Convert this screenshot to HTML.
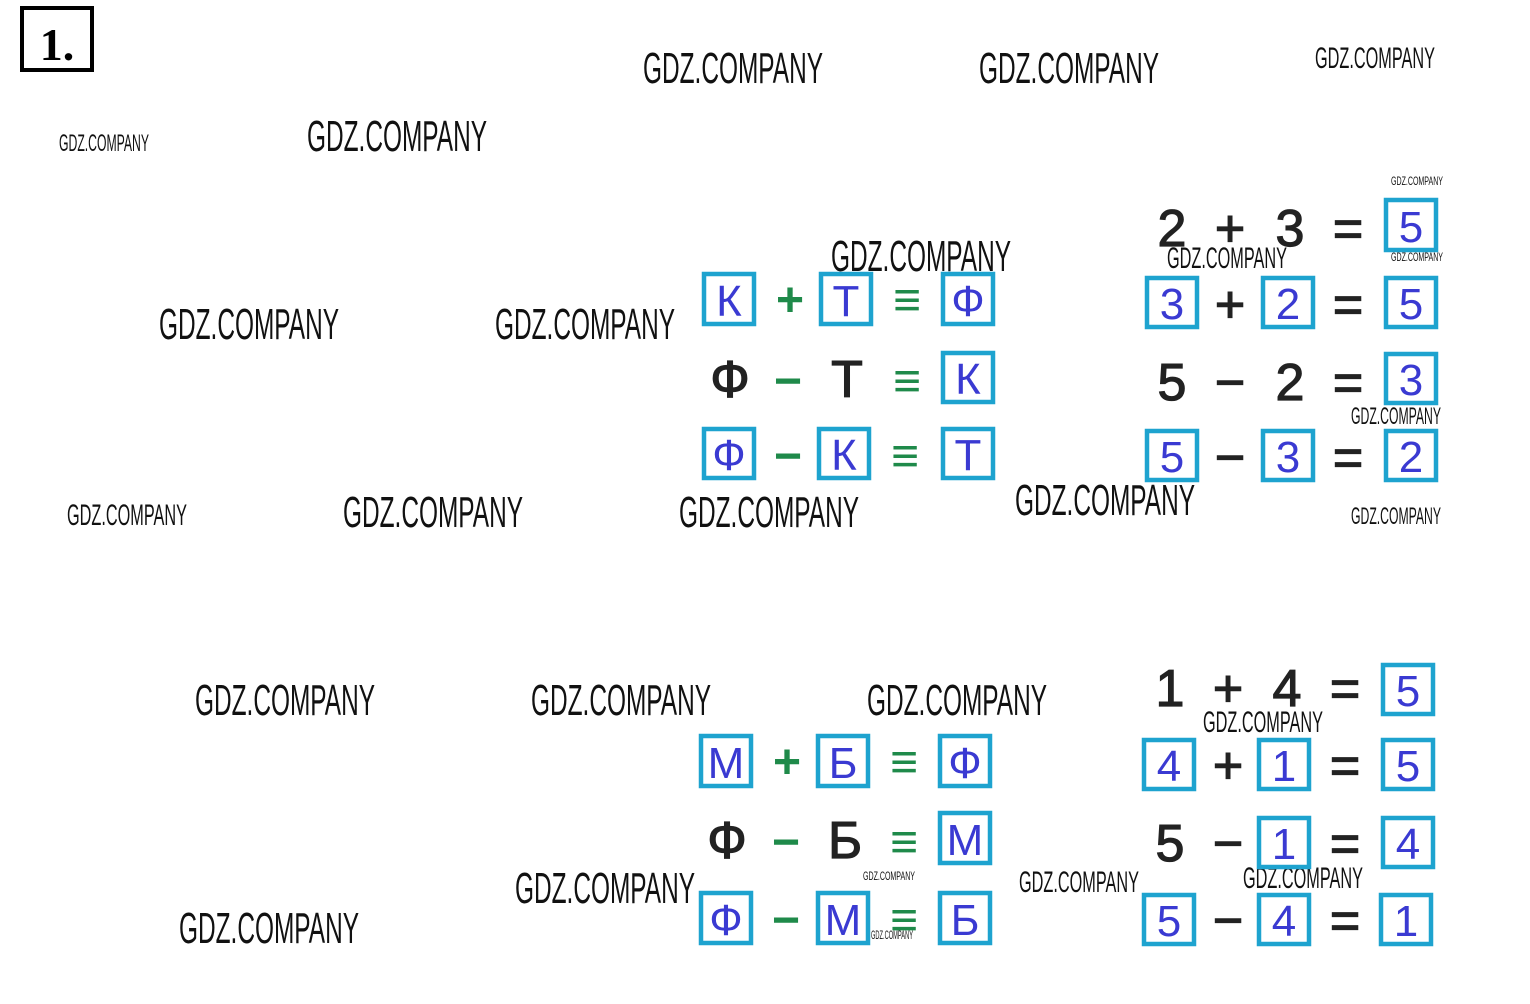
<!DOCTYPE html>
<html><head><meta charset="utf-8"><style>
html,body{margin:0;padding:0;background:#fff;width:1530px;height:1004px;overflow:hidden}
svg{display:block}
.w{font-family:"Liberation Sans",sans-serif;fill:#111;font-weight:normal}
.b{fill:none;stroke:#1ea3cf;stroke-width:4.5}
.l{font-family:"Liberation Sans","DejaVu Sans",sans-serif;font-size:44px;fill:#3a3ad2;text-anchor:middle}
.k{font-family:"Liberation Sans","DejaVu Sans",sans-serif;font-size:52px;fill:#222;stroke:#222;stroke-width:1.2;text-anchor:middle}
.g{font-family:"Liberation Sans","DejaVu Sans",sans-serif;font-size:48px;fill:#1f8a4a;text-anchor:middle;font-weight:bold}
</style></head><body>
<svg width="1530" height="1004" viewBox="0 0 1530 1004" xmlns="http://www.w3.org/2000/svg">
<rect x="22" y="8" width="70" height="62" fill="none" stroke="#000" stroke-width="4"/>
<text x="57" y="60" font-family="Liberation Serif,serif" font-weight="bold" font-size="46" text-anchor="middle">1.</text>

<g class="w" font-size="44">
<text x="643" y="83" textLength="180" lengthAdjust="spacingAndGlyphs">GDZ.COMPANY</text>
<text x="979" y="83" textLength="180" lengthAdjust="spacingAndGlyphs">GDZ.COMPANY</text>
<text x="307" y="151" textLength="180" lengthAdjust="spacingAndGlyphs">GDZ.COMPANY</text>
<text x="831" y="271" textLength="180" lengthAdjust="spacingAndGlyphs">GDZ.COMPANY</text>
<text x="159" y="339" textLength="180" lengthAdjust="spacingAndGlyphs">GDZ.COMPANY</text>
<text x="495" y="339" textLength="180" lengthAdjust="spacingAndGlyphs">GDZ.COMPANY</text>
<text x="343" y="527" textLength="180" lengthAdjust="spacingAndGlyphs">GDZ.COMPANY</text>
<text x="679" y="527" textLength="180" lengthAdjust="spacingAndGlyphs">GDZ.COMPANY</text>
<text x="1015" y="515" textLength="180" lengthAdjust="spacingAndGlyphs">GDZ.COMPANY</text>
<text x="195" y="715" textLength="180" lengthAdjust="spacingAndGlyphs">GDZ.COMPANY</text>
<text x="531" y="715" textLength="180" lengthAdjust="spacingAndGlyphs">GDZ.COMPANY</text>
<text x="867" y="715" textLength="180" lengthAdjust="spacingAndGlyphs">GDZ.COMPANY</text>
<text x="515" y="903" textLength="180" lengthAdjust="spacingAndGlyphs">GDZ.COMPANY</text>
<text x="179" y="943" textLength="180" lengthAdjust="spacingAndGlyphs">GDZ.COMPANY</text>
</g>
<g class="w" font-size="30">
<text x="1315" y="68" textLength="120" lengthAdjust="spacingAndGlyphs">GDZ.COMPANY</text>
<text x="1167" y="268" textLength="120" lengthAdjust="spacingAndGlyphs">GDZ.COMPANY</text>
<text x="67" y="525" textLength="120" lengthAdjust="spacingAndGlyphs">GDZ.COMPANY</text>
<text x="1203" y="732" textLength="120" lengthAdjust="spacingAndGlyphs">GDZ.COMPANY</text>
<text x="1019" y="892" textLength="120" lengthAdjust="spacingAndGlyphs">GDZ.COMPANY</text>
<text x="1243" y="888" textLength="120" lengthAdjust="spacingAndGlyphs">GDZ.COMPANY</text>
</g>
<g class="w" font-size="24">
<text x="1351" y="424" textLength="90" lengthAdjust="spacingAndGlyphs">GDZ.COMPANY</text>
<text x="1351" y="524" textLength="90" lengthAdjust="spacingAndGlyphs">GDZ.COMPANY</text>
<text x="59" y="151" textLength="90" lengthAdjust="spacingAndGlyphs">GDZ.COMPANY</text>
</g>
<g class="w" font-size="12">
<text x="1391" y="185" textLength="52" lengthAdjust="spacingAndGlyphs">GDZ.COMPANY</text>
<text x="1391" y="261" textLength="52" lengthAdjust="spacingAndGlyphs">GDZ.COMPANY</text>
<text x="863" y="880" textLength="52" lengthAdjust="spacingAndGlyphs">GDZ.COMPANY</text>
<text x="871" y="939" textLength="42" lengthAdjust="spacingAndGlyphs">GDZ.COMPANY</text>
</g>

<rect class="b" x="704" y="274" width="50" height="50"/><text class="l" x="729" y="316">К</text>
<text class="g" x="790" y="316">+</text>
<rect class="b" x="821" y="274" width="50" height="50"/><text class="l" x="846" y="316">Т</text>
<text class="g" x="907" y="316">≡</text>
<rect class="b" x="943" y="274" width="50" height="50"/><text class="l" x="968" y="316">Ф</text>

<text class="k" x="730" y="397">Ф</text>
<text class="g" x="788" y="397">−</text>
<text class="k" x="847" y="397">Т</text>
<text class="g" x="907" y="397">≡</text>
<rect class="b" x="943" y="353" width="50" height="49"/><text class="l" x="968" y="394">К</text>

<rect class="b" x="704" y="429" width="50" height="49"/><text class="l" x="729" y="470">Ф</text>
<text class="g" x="788" y="472">−</text>
<rect class="b" x="819" y="429" width="50" height="49"/><text class="l" x="844" y="470">К</text>
<text class="g" x="905" y="472">≡</text>
<rect class="b" x="943" y="429" width="50" height="49"/><text class="l" x="968" y="470">Т</text>

<text class="k" x="1172" y="246">2</text><text class="k" x="1230" y="246">+</text><text class="k" x="1290" y="246">3</text><text class="k" x="1348" y="246">=</text>
<rect class="b" x="1386" y="200" width="50" height="50"/><text class="l" x="1411" y="242">5</text>
<rect class="b" x="1147" y="278" width="50" height="49"/><text class="l" x="1172" y="319">3</text>
<text class="k" x="1230" y="322">+</text>
<rect class="b" x="1263" y="278" width="50" height="49"/><text class="l" x="1288" y="319">2</text>
<text class="k" x="1348" y="322">=</text>
<rect class="b" x="1386" y="278" width="50" height="49"/><text class="l" x="1411" y="319">5</text>
<text class="k" x="1172" y="400">5</text><text class="k" x="1230" y="400">−</text><text class="k" x="1290" y="400">2</text><text class="k" x="1348" y="400">=</text>
<rect class="b" x="1386" y="354" width="50" height="49"/><text class="l" x="1411" y="395">3</text>
<rect class="b" x="1147" y="431" width="50" height="49"/><text class="l" x="1172" y="472">5</text>
<text class="k" x="1230" y="475" fill="#999" stroke="#999">−</text>
<rect class="b" x="1263" y="431" width="50" height="49"/><text class="l" x="1288" y="472" fill="#9a9ae0">3</text>
<text class="k" x="1348" y="475">=</text>
<rect class="b" x="1386" y="431" width="50" height="49"/><text class="l" x="1411" y="472">2</text>

<rect class="b" x="701" y="736" width="50" height="50"/><text class="l" x="726" y="778">М</text>
<text class="g" x="787" y="778">+</text>
<rect class="b" x="818" y="736" width="50" height="50"/><text class="l" x="843" y="778">Б</text>
<text class="g" x="904" y="778">≡</text>
<rect class="b" x="940" y="736" width="50" height="50"/><text class="l" x="965" y="778">Ф</text>
<text class="k" x="727" y="858">Ф</text>
<text class="g" x="786" y="858">−</text>
<text class="k" x="845" y="858">Б</text>
<text class="g" x="904" y="858">≡</text>
<rect class="b" x="940" y="813" width="50" height="50"/><text class="l" x="965" y="855">М</text>
<rect class="b" x="701" y="893" width="50" height="50"/><text class="l" x="726" y="935">Ф</text>
<text class="g" x="786" y="936">−</text>
<rect class="b" x="818" y="893" width="50" height="50"/><text class="l" x="843" y="935">М</text>
<text class="g" x="904" y="936">≡</text>
<rect class="b" x="940" y="893" width="50" height="50"/><text class="l" x="965" y="935">Б</text>

<text class="k" x="1170" y="706">1</text><text class="k" x="1228" y="706">+</text><text class="k" x="1287" y="706">4</text><text class="k" x="1345" y="706">=</text>
<rect class="b" x="1383" y="665" width="50" height="49"/><text class="l" x="1408" y="706">5</text>
<rect class="b" x="1144" y="740" width="50" height="49"/><text class="l" x="1169" y="781">4</text>
<text class="k" x="1228" y="783">+</text>
<rect class="b" x="1259" y="740" width="50" height="49"/><text class="l" x="1284" y="781">1</text>
<text class="k" x="1345" y="783">=</text>
<rect class="b" x="1383" y="740" width="50" height="49"/><text class="l" x="1408" y="781">5</text>
<text class="k" x="1170" y="861">5</text><text class="k" x="1228" y="861">−</text>
<rect class="b" x="1259" y="818" width="50" height="49"/><text class="l" x="1284" y="859">1</text>
<text class="k" x="1345" y="861">=</text>
<rect class="b" x="1383" y="818" width="50" height="49"/><text class="l" x="1408" y="859">4</text>
<rect class="b" x="1144" y="895" width="50" height="49"/><text class="l" x="1169" y="936">5</text>
<text class="k" x="1228" y="938">−</text>
<rect class="b" x="1259" y="895" width="50" height="49"/><text class="l" x="1284" y="936">4</text>
<text class="k" x="1345" y="938">=</text>
<rect class="b" x="1381" y="895" width="50" height="49"/><text class="l" x="1406" y="936">1</text>
</svg>
</body></html>
